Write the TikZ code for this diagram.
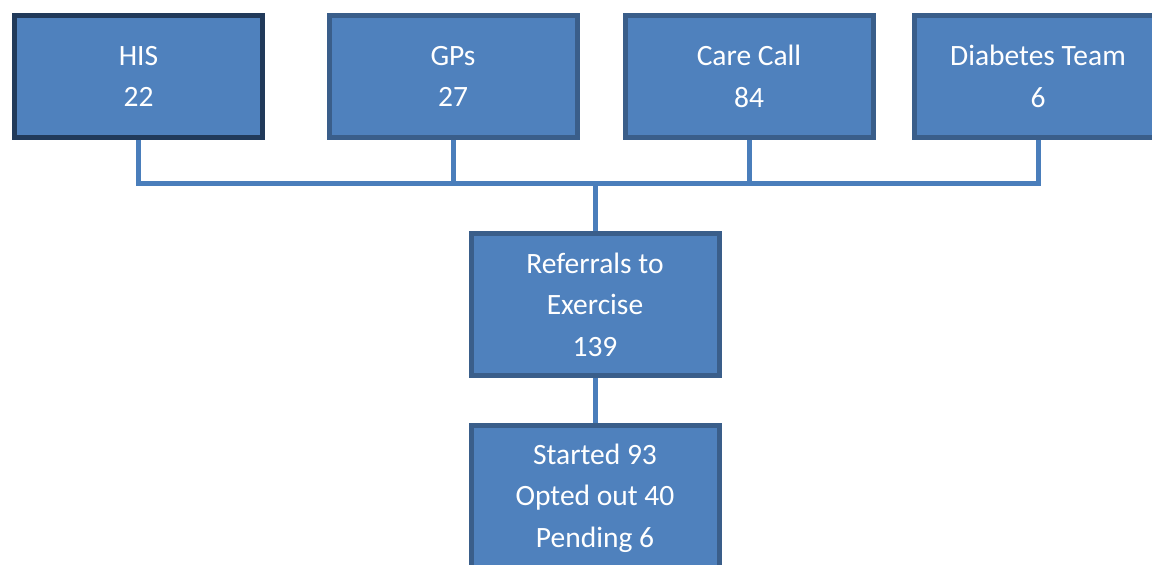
\documentclass[tikz,border=0pt]{standalone}
\usepackage{fontspec}
\setmainfont{Carlito}
\usetikzlibrary{backgrounds}
\definecolor{boxfill}{HTML}{4F81BD}
\definecolor{boxedge}{HTML}{3A5E8A}
\definecolor{boxedgedark}{HTML}{213A5A}
\definecolor{wire}{HTML}{4A7EBB}
\tikzset{
  orgbox/.style={draw=boxedge, fill=boxfill, line width=5pt, rectangle,
    inner sep=0pt, outer sep=0pt, align=center, text=white,
    font=\fontsize{29.5}{41.5}\selectfont},
  wireline/.style={draw=wire, line width=5pt, line join=miter}
}
\begin{document}
\begin{tikzpicture}[x=1pt,y=-1pt]
  \useasboundingbox (0,0) rectangle (1152,565);
  \clip (0,0) rectangle (1152,565);

  % referral sources
  \node[orgbox, draw=boxedgedark, minimum width=248pt, minimum height=122pt] (his) at (138.5,76.5) {HIS\\22};
  \node[orgbox, minimum width=248pt, minimum height=122pt] (gps) at (453,76.5) {GPs\\27};
  \node[orgbox, minimum width=248pt, minimum height=122pt] (care) at (749,76.5) {Care Call\\84};
  \node[orgbox, minimum width=248pt, minimum height=122pt] (dia) at (1038,76.5) {Diabetes Team\\6};

  % totals
  \node[orgbox, minimum width=248pt, minimum height=142pt] (ref) at (595,304.5) {Referrals to\\Exercise\\139};
  \node[orgbox, minimum width=248pt, minimum height=145pt] (out) at (595,498) {Started 93\\Opted out 40\\Pending 6};

  \coordinate (bus) at (595,183);

  \begin{scope}[on background layer]
    \fill[white] (0,0) rectangle (1152,565);
    \draw[wireline] (his.south) |- (dia.south |- bus) -- (dia.south);
    \draw[wireline] (gps.south) -- (gps.south |- bus);
    \draw[wireline] (care.south) -- (care.south |- bus);
    \draw[wireline] (bus) -- (ref.north);
    \draw[wireline] (ref.south) -- (out.north);
  \end{scope}
\end{tikzpicture}
\end{document}
